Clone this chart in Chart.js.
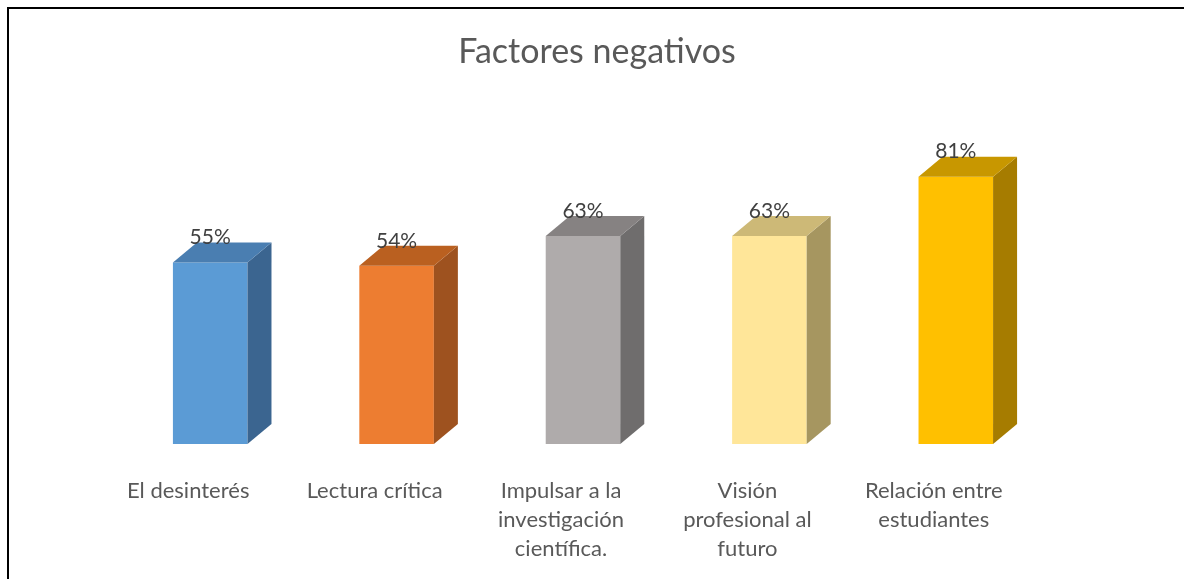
<!DOCTYPE html>
<html>
<head>
<meta charset="utf-8">
<script src="https://cdn.jsdelivr.net/npm/chart.js@4"></script>
<style>
  html, body { margin: 0; padding: 0; background: #fff; }
  #wrap { position: relative; width: 1184px; height: 579px; }
  #frame {
    position: absolute; left: 7px; top: 7px; right: 0; bottom: 0;
    border-left: 2px solid #000; border-top: 2px solid #000;
    pointer-events: none;
  }
</style>
</head>
<body>
<div id="wrap">
  <canvas id="chart" width="1184" height="579"></canvas>
  <div id="frame"></div>
</div>
<script>
// Data
const chartTitle = 'Factores negativos';
const categories = [
  ['El desinterés'],
  ['Lectura crítica'],
  ['Impulsar a la', 'investigación', 'científica.'],
  ['Visión', 'profesional al', 'futuro'],
  ['Relación entre', 'estudiantes']
];
const values = [55, 54, 63, 63, 81];

// Colours: front, side, top
const frontColors = ['#5B9BD5', '#ED7D31', '#AFABAB', '#FFE699', '#FFC000'];
const sideColors  = ['#3B6590', '#9E521F', '#6F6D6D', '#A69660', '#A67C00'];
const topColors   = ['#4A7EB1', '#BA6020', '#868282', '#CDB977', '#C89700'];

const DEPTH_X = 24;
const DEPTH_Y = 20;
const FONT = 'Lato, "Noto Sans", sans-serif';

// draws side/top faces, value labels, category labels and the title
const bars3d = {
  id: 'bars3d',
  afterDatasetsDraw(chart) {
    const ctx = chart.ctx;
    const meta = chart.getDatasetMeta(0);
    meta.data.forEach((bar, i) => {
      const left = bar.x - bar.width / 2;
      const right = bar.x + bar.width / 2;
      const top = bar.y;
      const bottom = bar.base;

      // side face
      ctx.fillStyle = sideColors[i];
      ctx.beginPath();
      ctx.moveTo(right, top);
      ctx.lineTo(right + DEPTH_X, top - DEPTH_Y);
      ctx.lineTo(right + DEPTH_X, bottom - DEPTH_Y);
      ctx.lineTo(right, bottom);
      ctx.closePath();
      ctx.fill();

      // top face
      ctx.fillStyle = topColors[i];
      ctx.beginPath();
      ctx.moveTo(left, top);
      ctx.lineTo(left + DEPTH_X, top - DEPTH_Y);
      ctx.lineTo(right + DEPTH_X, top - DEPTH_Y);
      ctx.lineTo(right, top);
      ctx.closePath();
      ctx.fill();

      // value label
      ctx.fillStyle = '#404040';
      ctx.font = '21px ' + FONT;
      ctx.textAlign = 'center';
      ctx.textBaseline = 'middle';
      ctx.fillText(values[i] + '%', bar.x, top - 25);
    });

    // category labels
    const xScale = chart.scales.x;
    ctx.fillStyle = '#595959';
    ctx.font = '22px ' + FONT;
    ctx.textAlign = 'center';
    ctx.textBaseline = 'middle';
    categories.forEach((lines, i) => {
      const cx = xScale.getPixelForValue(i) - 22;
      lines.forEach((line, j) => {
        ctx.fillText(line, cx, 491 + j * 29);
      });
    });

    // title
    ctx.font = '34px ' + FONT;
    ctx.fillText(chartTitle, 597, 52);
  }
};

new Chart(document.getElementById('chart'), {
  type: 'bar',
  data: {
    labels: categories.map(c => c.join(' ')),
    datasets: [{
      data: values,
      backgroundColor: frontColors,
      borderWidth: 0,
      categoryPercentage: 1,
      barPercentage: 0.4
    }]
  },
  options: {
    responsive: false,
    animation: false,
    layout: {
      padding: { left: 117, right: 135, top: 114, bottom: 135 }
    },
    plugins: {
      legend: { display: false },
      tooltip: { enabled: false },
      title: { display: false }
    },
    scales: {
      x: { display: false },
      y: { display: false, min: 0, max: 100 }
    }
  },
  plugins: [bars3d]
});
</script>
</body>
</html>
